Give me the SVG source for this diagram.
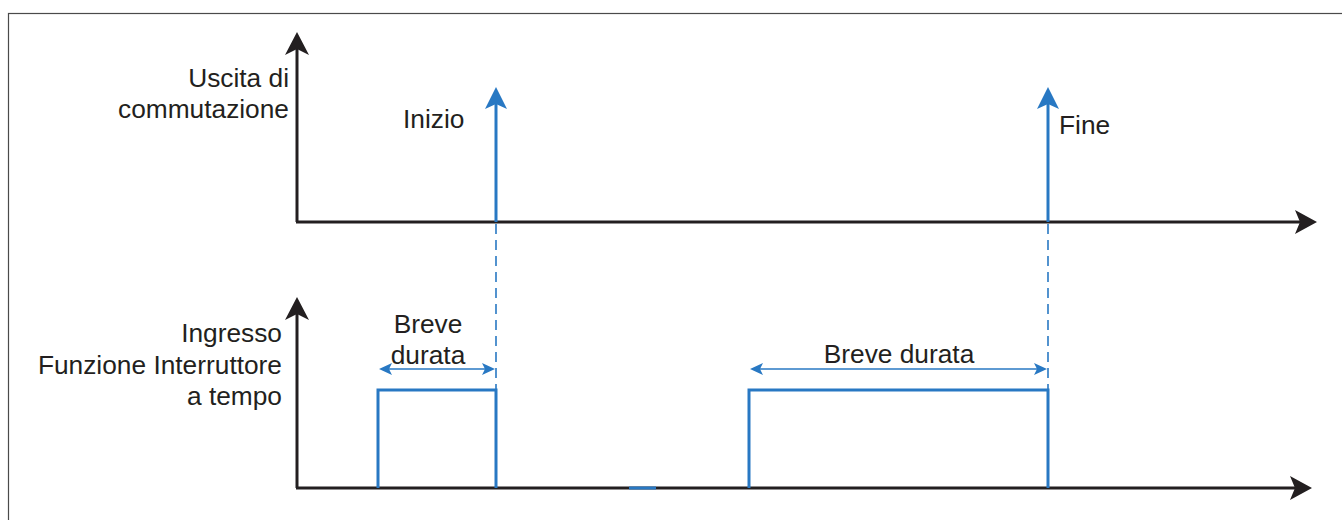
<svg xmlns="http://www.w3.org/2000/svg" width="1342" height="520" viewBox="0 0 1342 520">
<style>
.t{font-family:"Liberation Sans",Arial,sans-serif;font-size:26.3px;fill:#231f20}
.ax{stroke:#231f20;stroke-width:3;fill:none}
.bl{stroke:#2878c3;stroke-width:3;fill:none}
.dim{stroke:#2878c3;stroke-width:1.6;fill:none}
.dash{stroke:#2878c3;stroke-width:1.6;fill:none;stroke-dasharray:10 6}
.ah{fill:#231f20}
.bh{fill:#2878c3}
</style>
<rect x="8.5" y="13.5" width="1340" height="520" fill="none" stroke="#4a4a4a" stroke-width="1.2"/>
<g id="connectors">
<!-- top axes -->
<line class="ax" x1="297" y1="222" x2="297" y2="48"/>
<path class="ah" d="M297,32 L309,55 L297,49 L285,55 Z"/>
<line class="ax" x1="296" y1="222" x2="1302" y2="222"/>
<path class="ah" d="M1317,222 L1295,210 L1300,222 L1295,234 Z"/>
<!-- bottom axes -->
<line class="ax" x1="297" y1="488" x2="297" y2="313"/>
<path class="ah" d="M297,297 L309,320 L297,314 L285,320 Z"/>
<line class="ax" x1="296" y1="488" x2="1297" y2="488"/>
<path class="ah" d="M1312,488 L1290,476 L1295,488 L1290,500 Z"/>
<!-- blue output arrows -->
<line class="bl" x1="496" y1="222" x2="496" y2="102"/>
<path class="bh" d="M496,87 L507,109 L496,104 L485,109 Z"/>
<line class="bl" x1="1048" y1="222" x2="1048" y2="102"/>
<path class="bh" d="M1048,87 L1059,109 L1048,104 L1037,109 Z"/>
<!-- dashed projections -->
<line class="dash" x1="496" y1="224" x2="496" y2="389"/>
<line class="dash" x1="1048" y1="224" x2="1048" y2="389"/>
<!-- pulses -->
<polyline class="bl" points="378,488 378,390 496,390 496,488"/>
<polyline class="bl" points="749,488 749,390 1048,390 1048,488"/>
<line class="bl" x1="629" y1="488" x2="656" y2="488"/>
<!-- dimension arrows -->
<line class="dim" x1="384" y1="369" x2="490" y2="369"/>
<path class="bh" d="M379,369 L392,363 L389,369 L392,375 Z"/>
<path class="bh" d="M495,369 L482,363 L485,369 L482,375 Z"/>
<line class="dim" x1="755" y1="369" x2="1042" y2="369"/>
<path class="bh" d="M750,369 L763,363 L760,369 L763,375 Z"/>
<path class="bh" d="M1047,369 L1034,363 L1037,369 L1034,375 Z"/>
</g>
<g id="label-uscita">
<text class="t" x="289" y="87" text-anchor="end">Uscita di</text>
<text class="t" x="289" y="118" text-anchor="end">commutazione</text>
</g>
<g id="label-inizio"><text class="t" x="403" y="128">Inizio</text></g>
<g id="label-fine"><text class="t" x="1059" y="134">Fine</text></g>
<g id="label-ingresso">
<text class="t" x="282" y="342" text-anchor="end">Ingresso</text>
<text class="t" x="282" y="374" text-anchor="end">Funzione Interruttore</text>
<text class="t" x="282" y="405" text-anchor="end">a tempo</text>
</g>
<g id="label-breve1">
<text class="t" x="428" y="333" text-anchor="middle">Breve</text>
<text class="t" x="428" y="364" text-anchor="middle">durata</text>
</g>
<g id="label-breve2"><text class="t" x="899" y="363" text-anchor="middle">Breve durata</text></g>
</svg>
